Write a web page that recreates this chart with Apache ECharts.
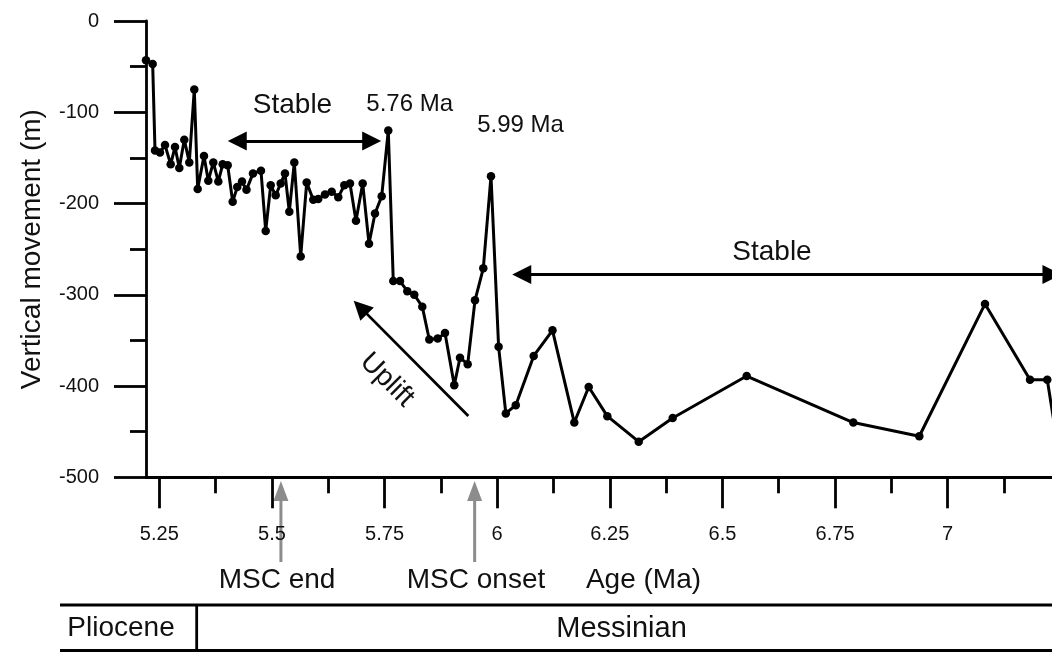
<!DOCTYPE html>
<html><head><meta charset="utf-8">
<script src="https://cdn.jsdelivr.net/npm/echarts@6/dist/echarts.min.js"></script>
<style>html,body{margin:0;padding:0;background:#fff}#c{width:1052px;height:652px}</style>
</head><body><div id="c"></div>
<script>
// ---- data (age in Ma, vertical movement in m) ----
const ages = [5.2205,5.2353,5.2405,5.2516,5.2627,5.2753,5.2849,5.2944,5.3055,5.3166,
  5.3277,5.3352,5.3492,5.3588,5.3699,5.3810,5.3907,5.4018,5.4129,5.4231,
  5.4336,5.4436,5.4580,5.4757,5.4862,5.4973,5.5084,5.5195,5.5290,5.5386,
  5.5497,5.5639,5.5772,5.5918,5.6029,5.6178,5.6327,5.6473,5.6607,5.6733,
  5.6866,5.7015,5.7155,5.7288,5.7437,5.7583,5.7694,5.7843,5.8005,5.8160,
  5.8338,5.8493,5.8680,5.8842,5.9048,5.9175,5.9346,5.9508,5.9692,5.9863,
  6.0032,6.0192,6.0413,6.0811,6.1228,6.1712,6.2032,6.2445,6.3142,6.3896,
  6.5539,6.7905,6.9370,7.0829,7.1828,7.2211,7.2450];
const movement = [-43,-47,-142,-144,-136,-157,-138,-161,-130,-155,
  -75,-184,-148,-175,-155,-176,-157,-158,-198,-182,
  -176,-185,-167,-164,-230,-180,-191,-178,-167,-209,
  -155,-258,-177,-196,-195,-190,-187,-193,-180,-178,
  -219,-178,-244,-211,-192,-120,-285,-285,-296,-300,
  -313,-349,-348,-342,-399,-369,-376,-306,-271,-170,
  -357,-430,-421,-367,-339,-440,-401,-433,-461,-435,
  -389,-440,-455,-310,-393,-393,-468];
const xTickLabels = [5.25,5.5,5.75,6,6.25,6.5,6.75,7];
const xMajorTicks = [5.25,5.5,5.75,6,6.25,6.5,6.75,7,7.25];
const xMinorTicks = [5.375,5.625,5.875,6.125,6.375,6.625,6.875,7.125];
const stableArrowA = [[5.423,-131.6],[5.7215,-131.6]];
const stableArrowB = [[6.0545,-277.8],[7.2315,-277.8]];
const upliftArrow = [[5.936,-432.8],[5.6964,-313.8]];
const mscEndAge = 5.52, mscOnsetAge = 5.95, plioceneBoundary = 5.333;

const FONT = '"Liberation Sans", Arial, Helvetica, sans-serif';
const BLACK = '#000';
const chart = echarts.init(document.getElementById('c'), null, {renderer:'canvas'});
const X_MIN = 5.2205, X_MAX = 7.25;
const ls = {color:BLACK, width:2.8};

chart.setOption({
  animation:false,
  backgroundColor:'#fff',
  grid:{left:146, top:21, width:914.3, height:456.3, outerBoundsMode:'none', containLabel:false},
  xAxis:[{
    type:'value', min:X_MIN, max:X_MAX, position:'bottom',
    axisLine:{show:true, onZero:false, lineStyle:ls},
    axisTick:{show:true, customValues:xMajorTicks, length:31, lineStyle:ls},
    axisLabel:{show:true, customValues:xTickLabels, margin:47, fontSize:20, color:'#111', fontFamily:FONT},
    splitLine:{show:false}
  },{
    type:'value', min:X_MIN, max:X_MAX, position:'bottom', gridIndex:0,
    axisLine:{show:false, onZero:false},
    axisTick:{show:true, customValues:xMinorTicks, length:16, lineStyle:ls},
    axisLabel:{show:false},
    splitLine:{show:false}
  }],
  yAxis:{
    type:'value', min:-500, max:0, interval:100,
    axisLine:{show:true, onZero:false, lineStyle:ls},
    axisTick:{show:true, length:32, lineStyle:ls},
    minorTick:{show:true, splitNumber:2, length:16, lineStyle:ls},
    axisLabel:{margin:47, fontSize:20, color:'#111', fontFamily:FONT},
    splitLine:{show:false}, minorSplitLine:{show:false},
    name:'Vertical movement (m)', nameLocation:'middle', nameGap:100,
    nameTextStyle:{fontSize:28, color:'#111', fontFamily:FONT}
  },
  series:[{
    type:'line', xAxisIndex:0, yAxisIndex:0,
    data: ages.map((a,i)=>[a, movement[i]]),
    symbol:'circle', symbolSize:8.5, showSymbol:true, showAllSymbol:true,
    itemStyle:{color:BLACK}, lineStyle:{color:BLACK, width:3},
    emphasis:{disabled:true},
    markLine:{
      silent:true, symbol:['triangle','triangle'], symbolSize:19,
      lineStyle:{color:BLACK, width:2.8, type:'solid'}, label:{show:false},
      emphasis:{disabled:true},
      data:[
        [{coord:stableArrowA[0]},{coord:stableArrowA[1]}],
        [{coord:stableArrowB[0]},{coord:stableArrowB[1]}],
        [{coord:upliftArrow[0], symbol:'none'},{coord:upliftArrow[1], symbol:'triangle'}]
      ]
    }
  }]
});

const px = v => chart.convertToPixel({xAxisIndex:0}, v);
const GRAY = '#8c8c8c';
function grayArrow(x){
  return [
    {type:'line', shape:{x1:x, y1:562, x2:x, y2:496}, style:{stroke:GRAY, lineWidth:3}, silent:true},
    {type:'polygon', shape:{points:[[x,481],[x-7.5,501],[x+7.5,501]]}, style:{fill:GRAY}, silent:true}
  ];
}
function txt(t, x, y, size, rot){
  return {type:'text', x:x, y:y, rotation:rot||0, silent:true,
    style:{text:t, x:0, y:0, font:size+'px '+FONT, fill:'#111',
      align:'center', verticalAlign:'middle', textAlign:'center', textVerticalAlign:'middle'}};
}
const xEnd = px(mscEndAge), xOnset = px(mscOnsetAge), xPlio = px(plioceneBoundary);
const g = [].concat(
  grayArrow(xEnd), grayArrow(xOnset),
  [
    txt('Stable', 292.5, 105, 28),
    txt('5.76 Ma', 409.7, 104, 24),
    txt('5.99 Ma', 520.5, 125, 24),
    txt('Stable', 772, 252, 28),
    txt('Uplift', 387, 380, 28, -Math.PI/4),
    txt('MSC end', 277, 580, 28),
    txt('MSC onset', 476, 580, 28),
    txt('Age (Ma)', 643.5, 580, 28),
    txt('Pliocene', 121, 628, 28),
    txt('Messinian', 621.5, 629, 29),
    {type:'line', shape:{x1:60, y1:605, x2:1052, y2:605}, style:{stroke:BLACK, lineWidth:2.8}, silent:true},
    {type:'line', shape:{x1:60, y1:650.5, x2:1052, y2:650.5}, style:{stroke:BLACK, lineWidth:2.8}, silent:true},
    {type:'line', shape:{x1:xPlio, y1:605, x2:xPlio, y2:651}, style:{stroke:BLACK, lineWidth:2.8}, silent:true}
  ]
);
chart.setOption({graphic:g});
</script></body></html>
